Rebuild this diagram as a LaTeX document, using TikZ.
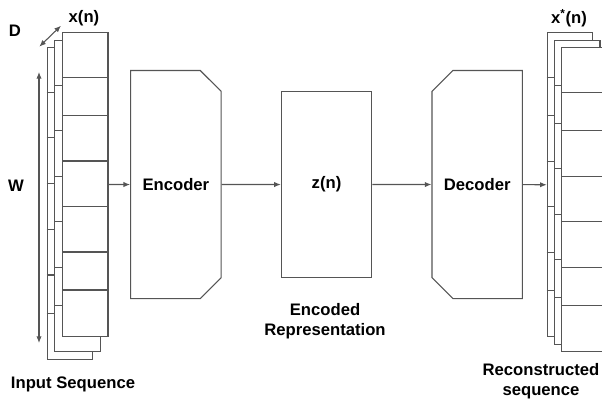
\documentclass[tikz,border=0pt]{standalone}
\usepackage{fontspec}
\setmainfont{Liberation Sans}
\usetikzlibrary{arrows.meta,positioning,calc,shapes.misc}
\definecolor{linegray}{RGB}{85,85,85}

\begin{document}
\begin{tikzpicture}[x=0.75pt, y=-0.75pt, font=\fontsize{12.5}{15}\selectfont\bfseries,
    sheet/.style={draw=linegray, fill=white, line width=0.8pt, inner sep=0pt, anchor=north west, minimum width=34.1pt},
    shortsheet/.style={sheet, minimum height=228pt},
    longsheet/.style={sheet, minimum height=233.6pt},
    rowline/.style={draw=linegray, line width=0.8pt},
    block/.style={draw=linegray, fill=white, line width=0.8pt, inner sep=0pt, minimum width=67.8pt, minimum height=171pt},
    cut/.style={chamfered rectangle, chamfered rectangle xsep=8pt, chamfered rectangle ysep=11pt},
    link/.style={draw=linegray, line width=0.8pt, -{Latex[length=5pt,width=4pt]}},
    dim/.style={draw=linegray, line width=0.8pt, {Latex[length=5pt,width=4pt]}-{Latex[length=5pt,width=4pt]}}]
    \useasboundingbox (0,0) rectangle (602,402);
    \clip (0,0) rectangle (602,402);

    % input sequence, three stacked sheets
    \node[longsheet] (inA) at (46.7,47.3) {};
    \foreach \r in {45.5,90.5,136.5,182,227.7,266}
        \draw[rowline] ($(inA.north west)+(0,\r)$) -- ($(inA.north east)+(0,\r)$);
    \node[longsheet] (inB) at (54.2,39.8) {};
    \foreach \r in {45.5,90.5,136.5,182,227.7,266}
        \draw[rowline] ($(inB.north west)+(0,\r)$) -- ($(inB.north east)+(0,\r)$);
    \node[shortsheet] (inC) at (62,32) {};
    \foreach \r in {45.5,83.5,129,174.5,220,258}
        \draw[rowline] ($(inC.north west)+(0,\r)$) -- ($(inC.north east)+(0,\r)$);

    \coordinate (dA) at (39.3,46.7);
    \coordinate (dB) at (61,25.7);
    \coordinate (wA) at (39,72);
    \coordinate (wB) at (39,343);
    \draw[dim] (dA) -- (dB);
    \draw[dim] (wA) -- (wB);

    \node (dlab) at (15,31) {D};
    \node (xlab) at (84,18) {x(n)};
    \node (wlab) at (16,186) {W};
    \node (inlab) at (73,384) {Input Sequence};

    % encoder, latent, decoder
    \node[block, cut, chamfered rectangle corners={north east,south east}] (enc) [right=16.2pt of inC] {Encoder};
    \node[block, minimum height=139.7pt] (zn) [right=44.4pt of enc] {z(n)};
    \node[block, cut, chamfered rectangle corners={north west,south west}] (dec) [right=44.4pt of zn] {Decoder};
    \node[align=center] (enclab) at (325,321) {Encoded\\Representation};

    % reconstructed sequence
    \node[shortsheet] (outA) at (546.7,32.3) {};
    \foreach \r in {45.5,83.5,129,174.5,220,258}
        \draw[rowline] ($(outA.north west)+(0,\r)$) -- ($(outA.north east)+(0,\r)$);
    \node[shortsheet] (outB) at (554,39.8) {};
    \foreach \r in {45.5,83.5,129,174.5,220,258}
        \draw[rowline] ($(outB.north west)+(0,\r)$) -- ($(outB.north east)+(0,\r)$);
    \node[shortsheet] (outC) at (561.3,47.3) {};
    \foreach \r in {45.5,83.5,129,174.5,220,258}
        \draw[rowline] ($(outC.north west)+(0,\r)$) -- ($(outC.north east)+(0,\r)$);

    \node (xslab) at (569,18) {x\textsuperscript{*}(n)};
    \node[align=center] (reclab) at (541,381) {Reconstructed\\sequence};

    \draw[link] (inC) -- (enc);
    \draw[link] (enc) -- (zn);
    \draw[link] (zn) -- (dec);
    \draw[link] (dec) -- (outA);
\end{tikzpicture}
\end{document}
